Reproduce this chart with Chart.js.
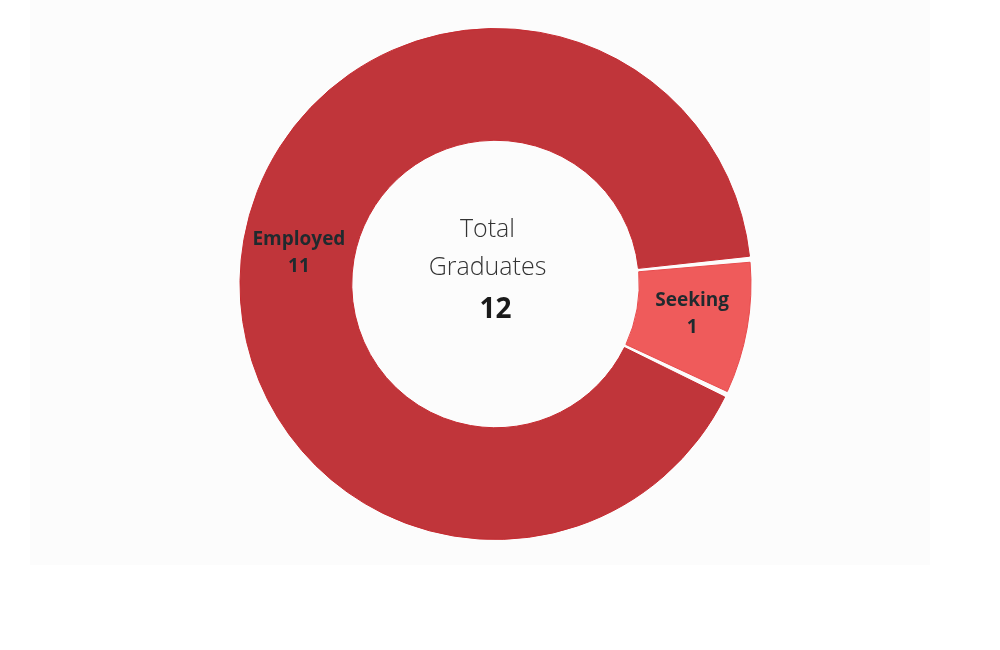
<!DOCTYPE html>
<html>
<head>
<meta charset="utf-8">
<script src="https://cdn.jsdelivr.net/npm/chart.js@4"></script>
<style>
  html, body { margin: 0; padding: 0; background: #fff; }
  #wrap { position: relative; width: 1000px; height: 650px; }
  #panel { position: absolute; left: 30px; top: 0; width: 900px; height: 565px; background: #fcfcfc; }
  #chart { position: absolute; left: 0; top: 0; }
</style>
</head>
<body>
<div id="wrap">
  <div id="panel"></div>
  <canvas id="chart" width="1000" height="650"></canvas>
</div>
<script>
const categories = ['Employed', 'Seeking'];
const counts = [11, 1];
const sliceColors = ['#c0353a', '#ef5b5b'];
const edgeColors = ['#c62a30', '#e84a4c'];
const centerTitle = ['Total', 'Graduates'];

// labels drawn in the middle of each ring segment
const sliceLabels = {
  id: 'sliceLabels',
  afterDatasetsDraw(chart) {
    const ctx = chart.ctx;
    const meta = chart.getDatasetMeta(0);
    const nudge = [3, -5];
    ctx.save();
    ctx.fillStyle = '#1f2a2e';
    ctx.font = 'bold 19px "Open Sans"';
    ctx.textAlign = 'center';
    ctx.textBaseline = 'middle';
    meta.data.forEach((arc, i) => {
      const p = arc.tooltipPosition();
      const y = p.y + nudge[i];
      ctx.fillText(categories[i], p.x, y - 13);
      ctx.fillText(String(counts[i]), p.x, y + 14);
    });
    ctx.restore();
  }
};

// total in the hole
const centerText = {
  id: 'centerText',
  afterDraw(chart) {
    const ctx = chart.ctx;
    const arc = chart.getDatasetMeta(0).data[0];
    const cx = arc.x, cy = arc.y;
    const total = counts.reduce((a, b) => a + b, 0);
    ctx.save();
    ctx.textAlign = 'center';
    ctx.textBaseline = 'middle';
    ctx.fillStyle = '#333';
    ctx.font = '300 25px "Open Sans"';
    ctx.fillText(centerTitle[0], cx - 8, cy - 54);
    ctx.fillText(centerTitle[1], cx - 8, cy - 16);
    ctx.fillStyle = '#1a1a1a';
    ctx.font = 'bold 28px "Open Sans"';
    ctx.fillText(String(total), cx, cy + 26);
    ctx.restore();
  }
};

new Chart(document.getElementById('chart'), {
  type: 'doughnut',
  data: {
    labels: categories,
    datasets: [{
      data: counts,
      backgroundColor: sliceColors,
      borderColor: edgeColors,
      borderWidth: 1,
      spacing: 3
    }]
  },
  options: {
    responsive: false,
    animation: false,
    rotation: 115,
    cutout: '56%',
    layout: { padding: { left: 239, right: 248, top: 28, bottom: 110 } },
    plugins: {
      legend: { display: false },
      tooltip: { enabled: false }
    }
  },
  plugins: [sliceLabels, centerText]
});
</script>
</body>
</html>
